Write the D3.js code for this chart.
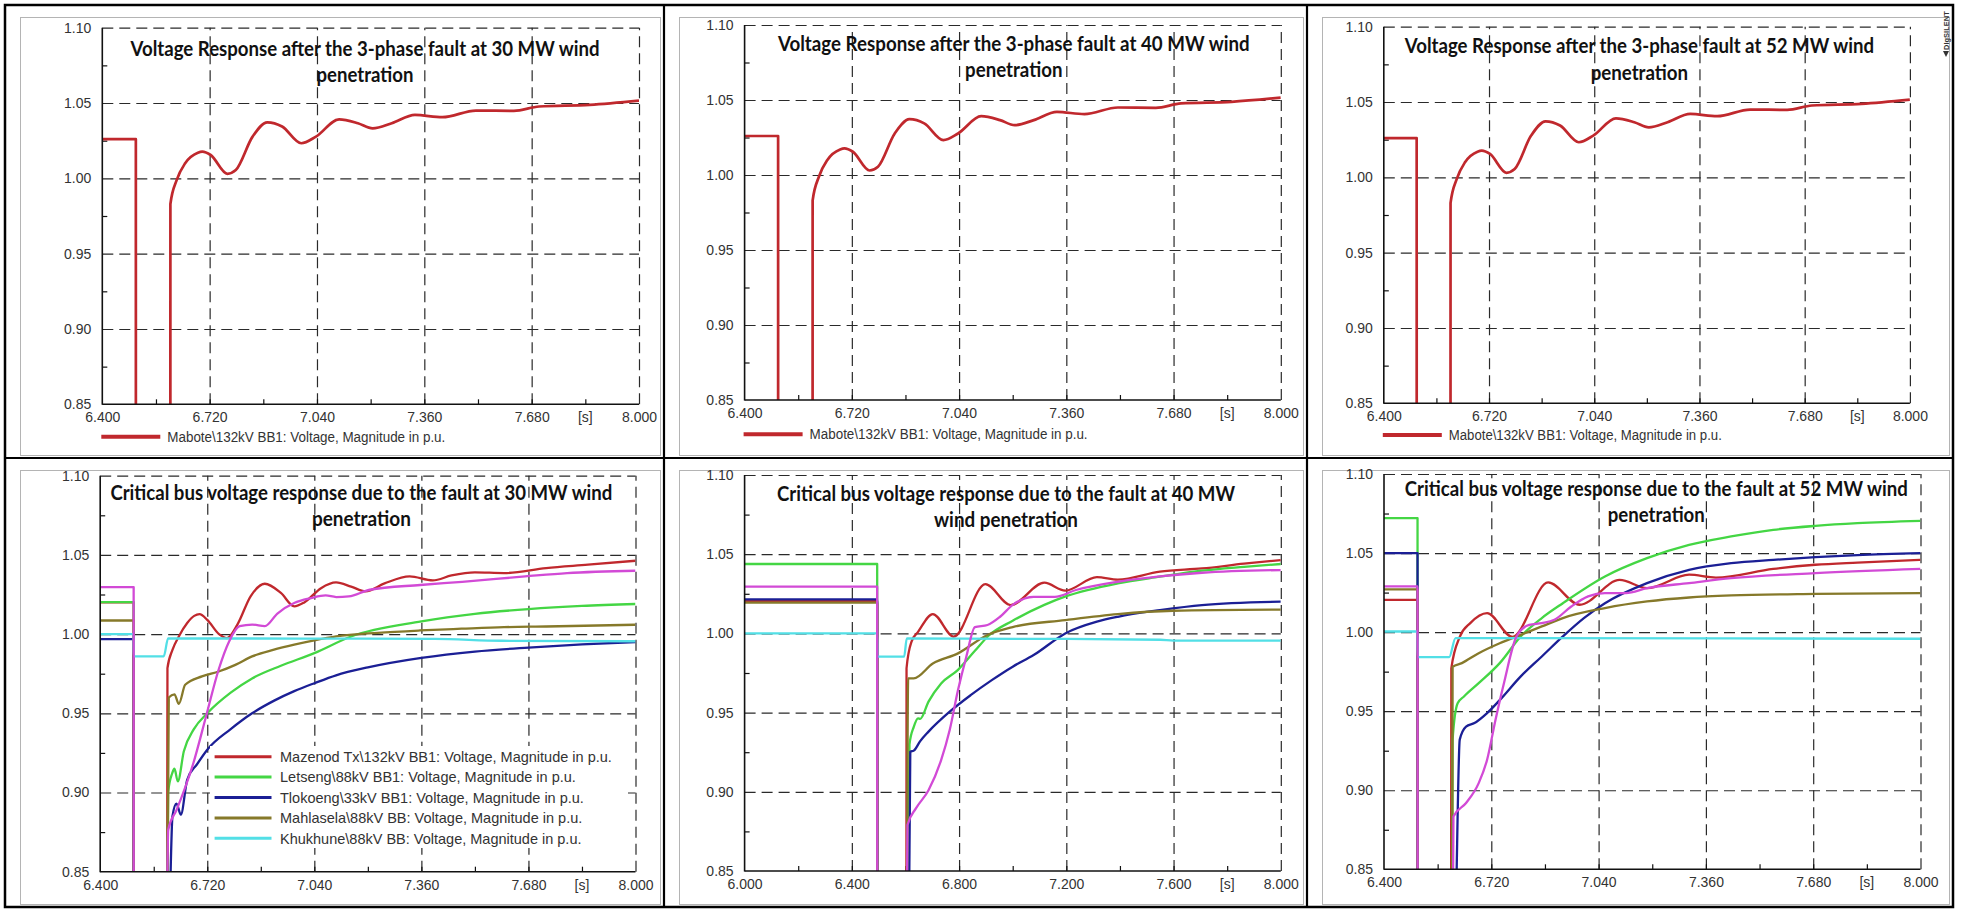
<!DOCTYPE html>
<html>
<head>
<meta charset="utf-8">
<script src="https://cdn.jsdelivr.net/npm/d3@7"></script>
<style>
  html, body { margin: 0; padding: 0; background: #fff; }
  svg { display: block; }
</style>
</head>
<body>
<svg id="chart" width="1971" height="909"></svg>
<script>
// ---------------- tick values ----------------
const voltTicks = [0.85, 0.90, 0.95, 1.00, 1.05, 1.10];
const timeTicksA = [6.4, 6.72, 7.04, 7.36, 7.68, 8.0];
const timeTicksB = [6.0, 6.4, 6.8, 7.2, 7.6, 8.0];

// ---------------- series: [time s, voltage p.u.] ----------------
// values below 0.85 p.u. are off-scale (bus voltage collapsed during the fault)
const maboteVoltage = [
  [6.40, 1.026], [6.50, 1.026], [6.5001, 0.80], [6.6029, 0.80], [6.603, 0.983],
  [6.622, 0.999], [6.647, 1.010], [6.685, 1.017], [6.698, 1.0177], [6.723, 1.0155],
  [6.773, 1.003], [6.798, 1.0055], [6.848, 1.0277], [6.892, 1.0372], [6.936, 1.0344],
  [6.993, 1.0233], [7.037, 1.0277], [7.106, 1.0392], [7.162, 1.0366], [7.206, 1.0332],
  [7.263, 1.0366], [7.332, 1.0421], [7.414, 1.0406], [7.514, 1.045], [7.627, 1.0448],
  [7.702, 1.0477], [7.853, 1.0488], [8.0, 1.0516]
];

// 30 MW wind penetration
const mazenod30 = [
  [6.4, 1.020], [6.5, 1.020], [6.5001, 0.80], [6.5999, 0.80], [6.601, 0.9785],
  [6.616, 0.990], [6.635, 0.9985], [6.66, 1.007], [6.681, 1.0115], [6.697, 1.0126],
  [6.72, 1.009], [6.755, 1.000], [6.779, 0.9975], [6.81, 1.006], [6.85, 1.024],
  [6.892, 1.0318], [6.94, 1.026], [6.98, 1.0175], [7.01, 1.020], [7.06, 1.029],
  [7.105, 1.0326], [7.15, 1.030], [7.193, 1.027], [7.25, 1.032], [7.325, 1.0364],
  [7.394, 1.0339], [7.45, 1.037], [7.52, 1.039], [7.607, 1.0385], [7.733, 1.0417],
  [7.858, 1.0438], [8.0, 1.0463]
];
const letseng30 = [
  [6.4, 1.0202], [6.5, 1.0202], [6.5001, 0.80], [6.6, 0.80], [6.603, 0.900],
  [6.615, 0.912], [6.622, 0.915], [6.632, 0.907], [6.65, 0.926], [6.68, 0.940],
  [6.72, 0.950], [6.79, 0.963], [6.854, 0.972], [6.94, 0.980], [7.04, 0.988],
  [7.15, 0.9985], [7.36, 1.008], [7.52, 1.0128], [7.68, 1.0158], [7.84, 1.0178],
  [8.0, 1.019]
];
const tlokoeng30 = [
  [6.4, 0.9968], [6.5, 0.9968], [6.5001, 0.80], [6.603, 0.80], [6.616, 0.885],
  [6.628, 0.893], [6.641, 0.886], [6.66, 0.908], [6.69, 0.918], [6.72, 0.927],
  [6.79, 0.940], [6.854, 0.950], [6.92, 0.958], [6.98, 0.964], [7.04, 0.969],
  [7.105, 0.974], [7.2, 0.979], [7.36, 0.985], [7.52, 0.989], [7.68, 0.9915],
  [7.84, 0.9935], [8.0, 0.995]
];
const mahlasela30 = [
  [6.4, 1.0086], [6.5, 1.0086], [6.5001, 0.80], [6.5999, 0.80], [6.605, 0.960],
  [6.622, 0.962], [6.635, 0.956], [6.654, 0.968], [6.704, 0.9733], [6.754, 0.9764],
  [6.804, 0.9806], [6.854, 0.9859], [6.917, 0.990], [6.98, 0.9933], [7.04, 0.996],
  [7.105, 0.9985], [7.23, 1.0008], [7.356, 1.0023], [7.48, 1.0034], [7.607, 1.0044],
  [7.733, 1.0048], [8.0, 1.0059]
];
const khukhune30 = [
  [6.4, 1.000], [6.5, 1.000], [6.5001, 0.986], [6.59, 0.986], [6.603, 0.9973],
  [7.0, 0.9972], [7.4, 0.997], [7.6, 0.9958], [8.0, 0.9955]
];
const sixthBus30 = [
  [6.4, 1.0297], [6.5, 1.0297], [6.5001, 0.80], [6.597, 0.80], [6.6033, 0.8765],
  [6.6284, 0.889], [6.6786, 0.9186], [6.7163, 0.948], [6.7539, 0.9775], [6.7853, 0.9954],
  [6.8167, 1.005], [6.8543, 1.006], [6.892, 1.005], [6.9296, 1.013], [6.9798, 1.0196],
  [7.03, 1.0227], [7.0739, 1.0244], [7.1053, 1.0234], [7.143, 1.0238], [7.2057, 1.028],
  [7.3563, 1.031], [7.4818, 1.033], [7.67, 1.0364], [7.7956, 1.0385], [8.0, 1.040]
];

// 40 MW wind penetration
const mazenod40 = [
  [6.0, 1.0206], [6.4945, 1.0206], [6.495, 0.80], [6.6035, 0.80], [6.604, 0.978],
  [6.623, 0.995], [6.647, 1.001], [6.702, 1.0122], [6.78, 0.998], [6.898, 1.0311],
  [6.992, 1.0179], [7.118, 1.032], [7.196, 1.027], [7.314, 1.0355], [7.392, 1.034],
  [7.549, 1.039], [7.706, 1.041], [7.863, 1.044], [8.0, 1.0463]
];
const letseng40 = [
  [6.0, 1.0438], [6.4945, 1.0438], [6.495, 0.80], [6.608, 0.80], [6.615, 0.930],
  [6.631, 0.941], [6.647, 0.9464], [6.655, 0.946], [6.686, 0.9569], [6.733, 0.9684],
  [6.796, 0.977], [6.859, 0.989], [6.91, 0.9985], [7.0, 1.008], [7.118, 1.018],
  [7.2, 1.0235], [7.392, 1.0316], [7.549, 1.0358], [7.706, 1.0396], [7.863, 1.042],
  [8.0, 1.0438]
];
const tlokoeng40 = [
  [6.0, 1.0215], [6.4945, 1.0215], [6.495, 0.80], [6.612, 0.80], [6.618, 0.9253],
  [6.631, 0.926], [6.655, 0.932], [6.686, 0.938], [6.765, 0.9506], [6.843, 0.961],
  [6.922, 0.9705], [7.0, 0.979], [7.078, 0.9863], [7.196, 1.0], [7.314, 1.0074],
  [7.392, 1.0105], [7.549, 1.0147], [7.706, 1.0179], [8.0, 1.020]
];
const mahlasela40 = [
  [6.0, 1.0194], [6.4945, 1.0194], [6.495, 0.80], [6.6035, 0.80], [6.61, 0.9716],
  [6.631, 0.9716], [6.702, 0.981], [6.796, 0.9874], [6.906, 0.999], [7.0, 1.004],
  [7.196, 1.0084], [7.392, 1.0122], [7.597, 1.0143], [8.0, 1.015]
];
const khukhune40 = [
  [6.0, 1.000], [6.4945, 1.000], [6.495, 0.9853], [6.595, 0.9853], [6.605, 0.9968],
  [7.2, 0.9965], [7.55, 0.996], [7.6, 0.9955], [8.0, 0.9955]
];
const sixthBus40 = [
  [6.0, 1.0295], [6.4945, 1.0295], [6.495, 0.80], [6.604, 0.80], [6.6075, 0.879],
  [6.639, 0.8895], [6.686, 0.901], [6.733, 0.920], [6.765, 0.939], [6.796, 0.9642],
  [6.827, 0.9853], [6.859, 1.004], [6.906, 1.0053], [6.953, 1.0105], [7.0, 1.018],
  [7.078, 1.0231], [7.157, 1.0231], [7.236, 1.0274], [7.392, 1.0326], [7.549, 1.036],
  [7.706, 1.0383], [8.0, 1.040]
];

// 52 MW wind penetration
const mazenod52 = [
  [6.4, 1.0204], [6.5, 1.0204], [6.5004, 0.80], [6.6, 0.80], [6.6008, 0.977],
  [6.6259, 0.997], [6.6573, 1.0057], [6.7075, 1.012], [6.7828, 0.997], [6.8895, 1.0314],
  [6.9836, 1.0173], [7.1028, 1.033], [7.1844, 1.0278], [7.3099, 1.0363], [7.39, 1.0345],
  [7.5609, 1.040], [7.6864, 1.0426], [7.8119, 1.044], [8.0, 1.0457]
];
const letseng52 = [
  [6.4, 1.0721], [6.5, 1.0721], [6.5004, 0.80], [6.6033, 0.80], [6.6046, 0.932],
  [6.6196, 0.955], [6.6385, 0.9593], [6.6824, 0.9677], [6.7451, 0.9804], [6.8079, 0.9973],
  [6.8706, 1.0089], [6.9334, 1.0183], [7.0589, 1.0352], [7.1844, 1.0468], [7.3099, 1.0552],
  [7.4354, 1.0605], [7.5609, 1.0647], [7.6864, 1.0672], [7.8119, 1.0689], [8.0, 1.0704]
];
const tlokoeng52 = [
  [6.4, 1.050], [6.5, 1.050], [6.5004, 0.80], [6.61, 0.80], [6.6259, 0.932],
  [6.6447, 0.9403], [6.6698, 0.9425], [6.7075, 0.9488], [6.7451, 0.957], [6.8079, 0.972],
  [6.8706, 0.9846], [6.9334, 0.9973], [6.9961, 1.0089], [7.0589, 1.0183], [7.1844, 1.031],
  [7.3099, 1.0394], [7.4354, 1.0436], [7.5609, 1.0457], [7.6864, 1.0474], [7.8119, 1.0487],
  [8.0, 1.050]
];
const mahlasela52 = [
  [6.4, 1.027], [6.5, 1.027], [6.5004, 0.80], [6.6033, 0.80], [6.6046, 0.978],
  [6.6322, 0.9804], [6.6824, 0.9867], [6.7451, 0.993], [6.8079, 0.9983], [6.8706, 1.0036],
  [6.9334, 1.0089], [7.0589, 1.0152], [7.1844, 1.0194], [7.3099, 1.0219], [7.4354, 1.0232],
  [7.6864, 1.0242], [8.0, 1.0247]
];
const khukhune52 = [
  [6.4, 1.0004], [6.5, 1.0004], [6.5004, 0.9842], [6.5945, 0.9842], [6.6134, 0.9962],
  [8.0, 0.9958]
];
const sixthBus52 = [
  [6.4, 1.0289], [6.5, 1.0289], [6.5004, 0.80], [6.6046, 0.80], [6.6071, 0.8834],
  [6.6447, 0.8919], [6.6824, 0.9045], [6.7075, 0.9193], [6.7326, 0.9446], [6.7577, 0.9677],
  [6.7953, 0.9973], [6.833, 1.0046], [6.8706, 1.0057], [6.9083, 1.0078], [6.9585, 1.0162],
  [7.0087, 1.0226], [7.0589, 1.0247], [7.1216, 1.0247], [7.1844, 1.0278], [7.3099, 1.031],
  [7.4354, 1.0341], [7.6864, 1.0373], [8.0, 1.040]
];

// ---------------- labels ----------------
const maboteLabel = "Mabote\\132kV BB1: Voltage, Magnitude in p.u.";
const busLabels = [
  "Mazenod Tx\\132kV BB1: Voltage, Magnitude in p.u.",
  "Letseng\\88kV BB1: Voltage, Magnitude in p.u.",
  "Tlokoeng\\33kV BB1: Voltage, Magnitude in p.u.",
  "Mahlasela\\88kV BB: Voltage, Magnitude in p.u.",
  "Khukhune\\88kV BB: Voltage, Magnitude in p.u."
];

// ---------------- styling ----------------
const RED = "#c0282d", GREEN = "#44d644", BLUE = "#1b1f95",
      OLIVE = "#86792a", CYAN = "#52dfe6", MAGENTA = "#d24ad6";
const busColors = [RED, GREEN, BLUE, OLIVE, CYAN];
const tickFont = "'Liberation Sans', Arial, sans-serif";
const titleFont = "Lato, 'Open Sans', sans-serif";

// ---------------- plot definitions ----------------
const plots = [
  { x0: 102.3, x1: 639, yTop: 27.7, yBot: 404.3, domain: [6.4, 8.0], ticks: timeTicksA,
    title: ["Voltage Response after the 3-phase fault at 30 MW wind", "penetration"],
    tx: 365, ty: [48.3, 75], tw: [469, 97],
    series: [{ data: maboteVoltage, color: RED, w: 2.7 }],
    legend: { kind: "below", y: 436.7, label: maboteLabel, len: 278 } },
  { x0: 744.6, x1: 1280.8, yTop: 25, yBot: 400, domain: [6.4, 8.0], ticks: timeTicksA,
    title: ["Voltage Response after the 3-phase fault at 40 MW wind", "penetration"],
    tx: 1013.8, ty: [43.3, 70], tw: [471.7, 97.4],
    series: [{ data: maboteVoltage, color: RED, w: 2.7 }],
    legend: { kind: "below", y: 434.3, label: maboteLabel, len: 278 } },
  { x0: 1383.8, x1: 1909.9, yTop: 26.7, yBot: 403.3, domain: [6.4, 8.0], ticks: timeTicksA,
    title: ["Voltage Response after the 3-phase fault at 52 MW wind", "penetration"],
    tx: 1639.4, ty: [45.7, 72.3], tw: [469.3, 97.5],
    series: [{ data: maboteVoltage, color: RED, w: 2.7 }],
    legend: { kind: "below", y: 435, label: maboteLabel, len: 273 } },
  { x0: 100.2, x1: 635.5, yTop: 475.7, yBot: 871.7, domain: [6.4, 8.0], ticks: timeTicksA,
    title: ["Critical bus voltage response due to the fault at 30 MW wind", "penetration"],
    tx: 361.4, ty: [492.3, 519], tw: [502, 99],
    series: [mazenod30, letseng30, tlokoeng30, mahlasela30, khukhune30, sixthBus30],
    legend: { kind: "inside", x: 210, y: 746, w: 418, h: 102, row0: 756.7, step: 20.4 } },
  { x0: 744.6, x1: 1280.8, yTop: 475, yBot: 871, domain: [6.0, 8.0], ticks: timeTicksB,
    title: ["Critical bus voltage response due to the fault at 40 MW", "wind penetration"],
    tx: 1006, ty: [493.3, 520], tw: [458, 144],
    series: [mazenod40, letseng40, tlokoeng40, mahlasela40, khukhune40, sixthBus40] },
  { x0: 1384, x1: 1920.5, yTop: 474, yBot: 869.3, domain: [6.4, 8.0], ticks: timeTicksA,
    title: ["Critical bus voltage response due to the fault at 52 MW wind", "penetration"],
    tx: 1656.3, ty: [488.3, 515], tw: [503, 97],
    series: [mazenod52, letseng52, tlokoeng52, mahlasela52, khukhune52, sixthBus52] }
];

const svg = d3.select("#chart");
const defs = svg.append("defs");
svg.append("rect").attr("width", 1971).attr("height", 909).attr("fill", "#fff");

// ---------------- table frame ----------------
const cellsX = [5, 664, 1307, 1953];
const cellsY = [5, 458, 907];
const frame = svg.append("g");
for (let r = 0; r < 2; r++) {
  for (let c = 0; c < 3; c++) {
    frame.append("rect")
      .attr("x", cellsX[c] + 15.5).attr("y", cellsY[r] + 12.5)
      .attr("width", cellsX[c + 1] - cellsX[c] - 19).attr("height", cellsY[r + 1] - cellsY[r] - 15)
      .attr("fill", "none").attr("stroke", "#b4b4b4").attr("stroke-width", 1);
  }
}
frame.append("rect").attr("x", 5).attr("y", 5).attr("width", 1948).attr("height", 902)
  .attr("fill", "none").attr("stroke", "#000").attr("stroke-width", 2.5);
frame.append("line").attr("x1", 5).attr("x2", 1953).attr("y1", 458).attr("y2", 458)
  .attr("stroke", "#000").attr("stroke-width", 2.2);
[664, 1307].forEach(xv => frame.append("line").attr("x1", xv).attr("x2", xv)
  .attr("y1", 5).attr("y2", 907).attr("stroke", "#000").attr("stroke-width", 2.2));

// software mark in the top-right corner
const mark = svg.append("g").attr("transform", "translate(1946,57) rotate(-90)");
mark.append("path").attr("d", "M0,0 L6,-3 L6,3 Z").attr("fill", "#333");
mark.append("text").attr("x", 7).attr("y", 3).attr("font-family", tickFont)
  .attr("font-size", 7.5).attr("font-weight", "bold").attr("fill", "#333").text("DIgSILENT");

// ---------------- plots ----------------
plots.forEach((p, i) => {
  const x = d3.scaleLinear().domain(p.domain).range([p.x0, p.x1]);
  const y = d3.scaleLinear().domain([0.85, 1.10]).range([p.yBot, p.yTop]);
  const w = p.x1 - p.x0, h = p.yBot - p.yTop;
  const g = svg.append("g");

  const clipId = "plotclip" + i;
  defs.append("clipPath").attr("id", clipId).append("rect")
    .attr("x", p.x0).attr("y", p.yTop).attr("width", w).attr("height", h);

  // dashed grid
  const gy = g.append("g").attr("transform", `translate(${p.x0},0)`)
    .call(d3.axisLeft(y).tickValues(voltTicks.slice(1)).tickSize(-w).tickFormat(""));
  const gx = g.append("g").attr("transform", `translate(0,${p.yBot})`)
    .call(d3.axisBottom(x).tickValues(p.ticks.slice(1)).tickSize(-h).tickFormat(""));
  [gy, gx].forEach(a => {
    a.select(".domain").remove();
    a.selectAll("line").attr("stroke", "#2a2a2a").attr("stroke-width", 1.2)
      .attr("stroke-dasharray", "11,6");
  });

  // minor / inner ticks
  const tStep = p.ticks[1] - p.ticks[0];
  const minorX = d3.range(p.ticks.length - 1).map(k => p.ticks[k] + tStep / 2);
  const minorY = d3.range(voltTicks.length - 1).map(k => voltTicks[k] + 0.025);
  const mx = g.append("g").attr("transform", `translate(0,${p.yBot})`)
    .call(d3.axisBottom(x).tickValues(minorX.concat(p.ticks.slice(1, -1))).tickSize(-5).tickFormat(""));
  const my = g.append("g").attr("transform", `translate(${p.x0},0)`)
    .call(d3.axisLeft(y).tickValues(minorY).tickSize(-5).tickFormat(""));
  [mx, my].forEach(a => {
    a.select(".domain").remove();
    a.selectAll("line").attr("stroke", "#111").attr("stroke-width", 1.2);
  });

  // series
  const line = d3.line().x(d => x(d[0])).y(d => y(d[1])).curve(d3.curveMonotoneX);
  const lines = g.append("g").attr("clip-path", `url(#${clipId})`);
  if (p.series.length === 1) {
    const s = p.series[0];
    lines.append("path").attr("d", line(s.data)).attr("fill", "none")
      .attr("stroke", s.color).attr("stroke-width", s.w).attr("stroke-linejoin", "round");
  } else {
    const colors = busColors.concat([MAGENTA]);
    p.series.forEach((data, k) => {
      lines.append("path").attr("d", line(data)).attr("fill", "none")
        .attr("stroke", colors[k]).attr("stroke-width", 2.3).attr("stroke-linejoin", "round");
    });
  }

  // solid axes
  g.append("line").attr("x1", p.x0).attr("x2", p.x0).attr("y1", p.yTop).attr("y2", p.yBot + 0.5)
    .attr("stroke", "#111").attr("stroke-width", 1.6);
  g.append("line").attr("x1", p.x0).attr("x2", p.x1).attr("y1", p.yBot).attr("y2", p.yBot)
    .attr("stroke", "#111").attr("stroke-width", 1.6);

  // tick labels
  const ly = g.append("g").attr("transform", `translate(${p.x0},0)`)
    .call(d3.axisLeft(y).tickValues(voltTicks).tickSize(0).tickPadding(11).tickFormat(d3.format(".2f")));
  const lx = g.append("g").attr("transform", `translate(0,${p.yBot})`)
    .call(d3.axisBottom(x).tickValues(p.ticks).tickSize(0).tickPadding(8).tickFormat(d3.format(".3f")));
  [ly, lx].forEach(a => {
    a.select(".domain").remove();
    a.selectAll("text").attr("font-family", tickFont).attr("font-size", 14).attr("fill", "#333");
  });
  const n = p.ticks.length;
  lx.append("text")
    .attr("x", x((p.ticks[n - 2] + p.ticks[n - 1]) / 2)).attr("y", 8).attr("dy", "0.71em")
    .attr("text-anchor", "middle").attr("font-family", tickFont).attr("font-size", 14)
    .attr("fill", "#333").text("[s]");

  // title
  p.title.forEach((t, k) => {
    g.append("text").attr("x", p.tx).attr("y", p.ty[k]).attr("dy", "0.36em")
      .attr("text-anchor", "middle").attr("font-family", titleFont).attr("font-weight", 700)
      .attr("font-size", 20).attr("fill", "#111")
      .attr("textLength", p.tw[k]).attr("lengthAdjust", "spacingAndGlyphs").text(t);
  });

  // legend
  if (p.legend && p.legend.kind === "below") {
    const L = p.legend;
    g.append("line").attr("x1", p.x0 - 1).attr("x2", p.x0 + 58).attr("y1", L.y).attr("y2", L.y)
      .attr("stroke", RED).attr("stroke-width", 4);
    g.append("text").attr("x", p.x0 + 65).attr("y", L.y).attr("dy", "0.36em")
      .attr("font-family", tickFont).attr("font-size", 14).attr("fill", "#333")
      .attr("textLength", L.len).attr("lengthAdjust", "spacingAndGlyphs").text(L.label);
  } else if (p.legend && p.legend.kind === "inside") {
    const L = p.legend;
    const lg = g.append("g");
    lg.append("rect").attr("x", L.x).attr("y", L.y).attr("width", L.w).attr("height", L.h).attr("fill", "#fff");
    busLabels.forEach((lab, k) => {
      const yy = L.row0 + k * L.step;
      lg.append("line").attr("x1", L.x + 4.6).attr("x2", L.x + 61.5).attr("y1", yy).attr("y2", yy)
        .attr("stroke", busColors[k]).attr("stroke-width", 3);
      lg.append("text").attr("x", L.x + 70).attr("y", yy).attr("dy", "0.36em")
        .attr("font-family", tickFont).attr("font-size", 14.5).attr("fill", "#333").text(lab);
    });
  }
});
</script>
</body>
</html>
